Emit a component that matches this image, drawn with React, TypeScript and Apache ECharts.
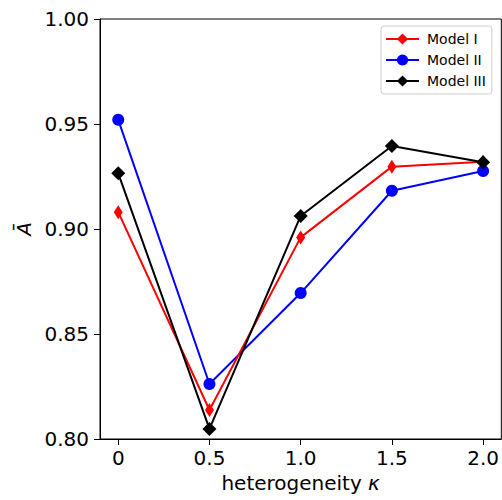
import React, { useEffect, useRef } from "react";
import * as echarts from "echarts";

const kappa = [0, 0.5, 1.0, 1.5, 2.0];
const modelI = [0.908, 0.8138, 0.896, 0.9297, 0.932];
const modelII = [0.952, 0.8262, 0.8695, 0.9182, 0.9276];
const modelIII = [0.9265, 0.8048, 0.9062, 0.9395, 0.9318];
const xTicks = [0, 0.5, 1.0, 1.5, 2.0];
const seriesNames = ["Model I", "Model II", "Model III"];

const FONT = "DejaVu Sans";

export default function App() {
  const ref = useRef<HTMLDivElement>(null);
  useEffect(() => {
    if (!ref.current) return;
    const chart = echarts.init(ref.current, null, { renderer: "svg" });
    const pair = (ys: number[]) => kappa.map((x, i) => [x, ys[i]]);
    const common = { type: "line", lineStyle: { width: 2 }, emphasis: { disabled: true } };
    chart.setOption({
      animation: false,
      backgroundColor: "#fff",
      textStyle: { fontFamily: FONT },
      grid: { left: 100, top: 19, width: 402, height: 420, show: true, borderColor: "#000", borderWidth: 1, backgroundColor: "transparent" },
      legend: {
        orient: "vertical",
        left: 381,
        top: 26,
        padding: [6, 6, 6, 4],
        itemWidth: 33,
        itemHeight: 14,
        itemGap: 7,
        borderColor: "#cccccc",
        borderWidth: 1,
        borderRadius: 3,
        backgroundColor: "rgba(255,255,255,0.8)",
        textStyle: { fontFamily: FONT, fontSize: 14, color: "#000", padding: [0, 0, 0, 3] },
        data: seriesNames,
      },
      xAxis: {
        type: "value",
        min: -0.1,
        max: 2.1,
        name: "heterogeneity {i|κ}",
        nameLocation: "middle",
        nameGap: 25,
        nameTextStyle: { fontFamily: FONT, fontSize: 20, color: "#000", rich: { i: { fontStyle: "italic", fontFamily: FONT, fontSize: 20, color: "#000" } } },
        axisLine: { show: true, onZero: false, lineStyle: { color: "#000", width: 1 } },
        axisTick: { show: true, inside: false, length: 6, customValues: xTicks, lineStyle: { color: "#000" } },
        axisLabel: {
          customValues: xTicks,
          margin: 9,
          fontFamily: FONT,
          fontSize: 20,
          color: "#000",
          formatter: (v: number) => (v === 0 ? "0" : v.toFixed(1)),
        },
        splitLine: { show: false },
      },
      yAxis: {
        type: "value",
        min: 0.8,
        max: 1.0,
        interval: 0.05,
        name: "Ā",
        nameLocation: "middle",
        nameGap: 58,
        nameRotate: 90,
        nameTextStyle: { fontFamily: FONT, fontSize: 20, fontStyle: "italic", color: "#000" },
        axisLine: { show: true, onZero: false, lineStyle: { color: "#000", width: 1 } },
        axisTick: { show: true, inside: false, length: 6, lineStyle: { color: "#000" } },
        axisLabel: {
          margin: 11,
          fontFamily: FONT,
          fontSize: 20,
          color: "#000",
          formatter: (v: number) => v.toFixed(2),
        },
        splitLine: { show: false },
      },
      series: [
        {
          ...common,
          name: seriesNames[0],
          data: pair(modelI),
          color: "#ff0000",
          symbol: "path://M0,-10 L6,0 L0,10 L-6,0 Z",
          symbolSize: [9, 14],
          z: 3,
        },
        {
          ...common,
          name: seriesNames[1],
          data: pair(modelII),
          color: "#0000ff",
          symbol: "circle",
          symbolSize: 12,
          z: 2,
        },
        {
          ...common,
          name: seriesNames[2],
          data: pair(modelIII),
          color: "#000000",
          symbol: "diamond",
          symbolSize: 14,
          z: 4,
        },
      ],
    });
    return () => chart.dispose();
  }, []);
  return <div ref={ref} style={{ width: 502, height: 500, position: "absolute", left: 0, top: 0 }} />;
}
